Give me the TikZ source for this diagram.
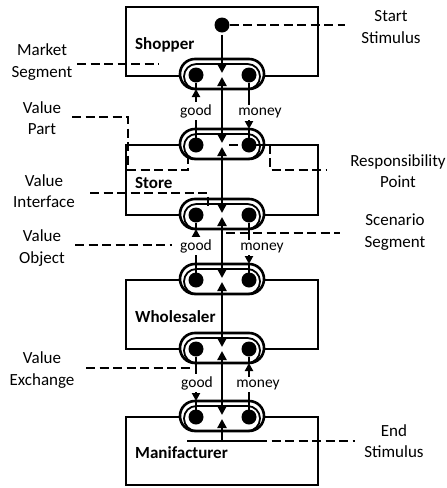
\documentclass[tikz,border=0pt]{standalone}
\usepackage{fontspec}
\setmainfont{Carlito}
\usetikzlibrary{arrows.meta}

\tikzset{
  actor/.style={draw, line width=2.7pt, rectangle, inner sep=0pt, outer sep=0pt, minimum width=192pt},
  iface/.style={draw, fill=white, line width=2.6pt, rectangle, rounded corners=14.9pt,
                minimum width=84pt, minimum height=30pt, inner sep=0pt, outer sep=0pt},
  offer/.style={draw, line width=1.8pt, rectangle, rounded corners=12.4pt,
                minimum width=76pt, minimum height=25pt, inner sep=0pt, outer sep=0pt, anchor=south},
  port/.style={circle, fill=black, minimum size=15pt, inner sep=0pt, outer sep=0pt},
  xline/.style={line width=2.3pt},
  xtip/.style={-{Triangle[length=8pt,width=8pt]}},
  dep/.style={line width=2.3pt, shorten <=2pt, shorten >=2pt},
  deptip/.tip={Triangle[length=9pt,width=9pt]},
  dashline/.style={line width=2.8pt, dash pattern=on 9pt off 4.5pt},
  lab/.style={font=\fontsize{17}{21.5}\selectfont, align=center, inner sep=0pt},
  actorname/.style={font=\bfseries\fontsize{17}{20}\selectfont, anchor=base west, inner sep=0pt},
  flow/.style={font=\fontsize{15.5}{18}\selectfont, fill=white, inner sep=2pt, anchor=base},
}

\begin{document}
\begin{tikzpicture}[x=1pt, y=-1pt]
\useasboundingbox (0,0) rectangle (447,488);

% actors
\node[actor, minimum height=69pt] (shopper) at (222,41.5) {};
\node[actor, minimum height=70pt] (store) at (222,180) {};
\node[actor, minimum height=69pt] (wholesaler) at (222,314.5) {};
\node[actor, minimum height=68pt] (manif) at (222,451) {};

\node[actorname] (nShopper) at (135,49) {Shopper};
\node[actorname] (nStore) at (135,188) {Store};
\node[actorname] (nWholesaler) at (135,322) {Wholesaler};
\node[actorname] (nManif) at (135,458) {Manifacturer};

% value interfaces with their offerings
\foreach \k/\cy in {1/75, 2/145, 3/215, 4/280, 5/349, 6/417} {
  \node[iface] (i\k) at (222,\cy-1) {};
  \node[offer] (o\k) at (i\k.south) {};
  \node[port] (p\k L) at (196,\cy) {};
  \node[port] (p\k R) at (249,\cy) {};
  \coordinate (c\k) at (222,\cy);
}

% start and end stimulus
\node[port] (start) at (222,25) {};
\coordinate (endL) at (187,441);
\coordinate (endC) at (222,441);
\coordinate (endR) at (258,441);
\draw[line width=2.6pt] (endL) -- (endR);

% dependency path
\draw[dep, -deptip] (start) -- (c1);
\foreach \a/\b in {1/2, 2/3, 3/4, 4/5, 5/6} {
  \draw[dep, deptip-deptip] (c\a) -- (c\b);
}
\draw[dep, shorten <=0pt, -deptip] (endC) -- (c6);

% value exchanges: Store -> Shopper (good), Shopper -> Store (money)
\draw[xline, xtip] (p2L) -- (p2L |- i1.south);
\draw[xline] (i1.south -| p1L) -- (p1L);
\draw[xline, xtip] (p1R) -- (p1R |- i2.north);
\draw[xline] (i2.north -| p2R) -- (p2R);
\node[flow] (g1) at (196,115) {good};
\node[flow] (m1) at (260,115) {money};

% Wholesaler -> Store (good), Store -> Wholesaler (money)
\draw[xline, xtip] (p4L) -- (p4L |- i3.south);
\draw[xline] (i3.south -| p3L) -- (p3L);
\draw[xline, xtip] (p3R) -- (p3R |- i4.north);
\draw[xline] (i4.north -| p4R) -- (p4R);
\node[flow] (g2) at (196,250) {good};
\node[flow] (m2) at (262,250) {money};

% Wholesaler / Manifacturer exchanges
\draw[xline, xtip] (p5L) -- (p5L |- i6.north);
\draw[xline] (i6.north -| p6L) -- (p6L);
\draw[xline, xtip] (p6R) -- (p6R |- i5.south);
\draw[xline] (i5.south -| p5R) -- (p5R);
\node[flow] (g3) at (197,387) {good};
\node[flow] (m3) at (258,387) {money};

% annotation labels
\node[lab] (lStart) at (391,27) {Start\\Stimulus};
\node[lab] (lMarket) at (42,62) {Market\\Segment};
\node[lab] (lPart) at (42,118) {Value\\Part};
\node[lab] (lIface) at (44,191) {Value\\Interface};
\node[lab] (lResp) at (398,171) {Responsibility\\Point};
\node[lab] (lScen) at (395,232) {Scenario\\Segment};
\node[lab] (lObj) at (42,248) {Value\\Object};
\node[lab] (lExch) at (42,370) {Value\\Exchange};
\node[lab] (lEnd) at (394,441) {End\\Stimulus};

% annotation leaders
\coordinate (ssB) at (345,25);
\draw[dashline] (start) -- (ssB);

\coordinate (msA) at (77,64);
\coordinate (msB) at (159,64);
\draw[dashline] (msA) -- (msB);

\coordinate (vpA) at (72,117);
\coordinate (vpB) at (188,154);
\draw[dashline] (vpA) -- (128,117) -- (128,170) -- (188,170) -- (vpB);

\coordinate (viA) at (90,193);
\coordinate (viB) at (208,210);
\draw[dashline] (viA) -| (viB);

\coordinate (rpA) at (229,145);
\coordinate (rpB) at (327,170);
\draw[dashline] (rpA) -- (270,145) |- (rpB);

\coordinate (scA) at (226,233);
\coordinate (scB) at (340,233);
\draw[dashline] (scA) -- (scB);

\coordinate (voA) at (75,245);
\coordinate (voB) at (172,245);
\draw[dashline] (voA) -- (voB);

\coordinate (veA) at (86,368);
\coordinate (veB) at (194,368);
\draw[dashline] (veA) -- (veB);

\coordinate (esB) at (355,441);
\draw[dashline] (endR) -- (esB);
\end{tikzpicture}
\end{document}
